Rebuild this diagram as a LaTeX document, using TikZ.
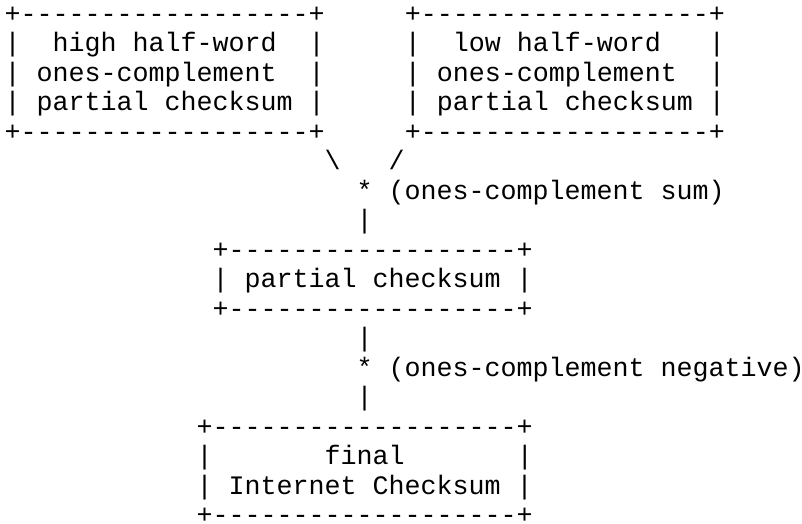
\documentclass[tikz,border=0pt]{standalone}
\usepackage{fontspec}
\setmonofont{Liberation Mono}
\begin{document}
\begin{tikzpicture}[x=1pt,y=-1pt,
  ln/.style={anchor=base west,inner sep=0pt,outer sep=0pt,
    font=\ttfamily\fontsize{26.667}{29.5}\selectfont,text=black}]
\fill[white] (0,0) rectangle (802,523);
\useasboundingbox (0,0) rectangle (802,523);
% top boxes (rows 1-5), columns 0 and 25
\node[ln] (r1)  at (4.7,22.0)  {+------------------+~~~~~+------------------+};
\node[ln] (r2)  at (4.7,51.5)  {|~~high~half-word~~|~~~~~|~~low~half-word~~~|};
\node[ln] (r3)  at (4.7,81.0)  {|~ones-complement~~|~~~~~|~ones-complement~~|};
\node[ln] (r4)  at (4.7,110.5) {|~partial~checksum~|~~~~~|~partial~checksum~|};
\node[ln] (r5)  at (4.7,140.0) {+------------------+~~~~~+------------------+};
% sum connector (rows 6-8)
\node[ln] (r6)  at (324.7,169.5) {\textbackslash~~~/};
\node[ln] (r7)  at (356.7,199.0) {*~(ones-complement~sum)};
\node[ln] (r8)  at (356.7,228.5) {|};
% partial checksum box (rows 9-11), column 13
\node[ln] (r9)  at (212.7,258.0) {+------------------+};
\node[ln] (r10) at (212.7,287.5) {|~partial~checksum~|};
\node[ln] (r11) at (212.7,317.0) {+------------------+};
% negative connector (rows 12-14), column 22
\node[ln] (r12) at (356.7,346.5) {|};
\node[ln] (r13) at (356.7,376.0) {*~(ones-complement~negative)};
\node[ln] (r14) at (356.7,405.5) {|};
% final box (rows 15-18), column 12
\node[ln] (r15) at (196.7,435.0) {+-------------------+};
\node[ln] (r16) at (196.7,464.5) {|~~~~~~~final~~~~~~~|};
\node[ln] (r17) at (196.7,494.0) {|~Internet~Checksum~|};
\node[ln] (r18) at (196.7,523.5) {+-------------------+};
\end{tikzpicture}
\end{document}
